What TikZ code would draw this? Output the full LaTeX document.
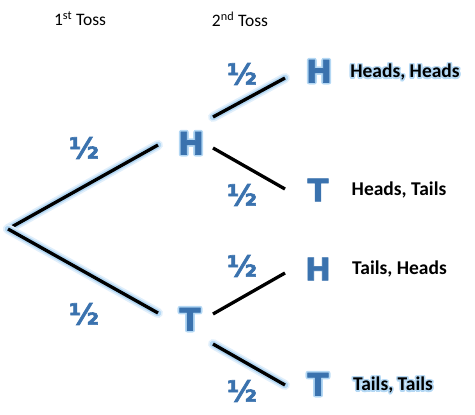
\documentclass[tikz,border=0pt]{standalone}
\usepackage{fontspec}
\setmainfont{Carlito}
\newfontfamily\letterfont{DejaVu Sans}[FakeBold=2]
\usepackage{contour}
\contourlength{1.6pt}
\contournumber{12}
\definecolor{coinblue}{HTML}{3A72AE}
\definecolor{glowblue}{HTML}{B4D8F4}

\tikzstyle{branch}=[line width=3.3pt, black]
\tikzstyle{glowing}=[preaction={draw, line width=10pt, line cap=round, glowblue!40}, preaction={draw, line width=6.5pt, line cap=round, glowblue}]
\tikzstyle{coin}=[text=coinblue, font=\letterfont\bfseries\fontsize{31}{31}\selectfont, inner sep=0pt]
\tikzstyle{half}=[text=coinblue, font=\letterfont\bfseries\fontsize{29}{29}\selectfont, inner sep=0pt]
\tikzstyle{outcome}=[font=\bfseries\fontsize{19.5}{19.5}\selectfont, inner sep=0pt]
\tikzstyle{toss}=[font=\fontsize{17.5}{17.5}\selectfont, inner sep=0pt]

\begin{document}
\begin{tikzpicture}[x=1pt, y=-1pt]
					\useasboundingbox (0,0) rectangle (475,415);

					\node[toss] (first)  at (80,19)  {1\textsuperscript{st} Toss};
					\node[toss] (second) at (240,19) {2\textsuperscript{nd} Toss};

					\coordinate (root) at (8,229);

					\node[coin] (h1) at (191,144) {\contour{glowblue}{H}};
					\node[coin] (t1) at (190,320) {\contour{glowblue}{T}};
					\node[coin] (h2) at (319,72)  {\contour{glowblue}{H}};
					\node[coin] (t2) at (318,190) {T};
					\node[coin] (h3) at (318,269) {H};
					\node[coin] (t4) at (318,385) {\contour{glowblue}{T}};

					\draw[branch, glowing] (root) -- ([shift={(-33,1)}]h1.center);
					\draw[branch, glowing] (root) -- ([shift={(-32,-7)}]t1.center);
					\draw[branch, glowing] ([shift={(22,-27)}]h1.center) -- ([shift={(-34,6)}]h2.center);
					\draw[branch] ([shift={(22,4)}]h1.center) -- ([shift={(-33,-1)}]t2.center);
					\draw[branch] ([shift={(23,-6)}]t1.center) -- ([shift={(-33,4)}]h3.center);
					\draw[branch, glowing] ([shift={(23,24)}]t1.center) -- ([shift={(-33,0)}]t4.center);

					\node[half] (p1) at (84,148)  {½};
					\node[half] (p2) at (84,314)  {½};
					\node[half] (p3) at (242,74)  {½};
					\node[half] (p4) at (242,195) {½};
					\node[half] (p5) at (242,266) {½};
					\node[half] (p6) at (242,391) {½};

					\node[outcome] (hh) at (405,73)  {\contour{glowblue}{Heads, Heads}};
					\node[outcome] (ht) at (399,190) {Heads, Tails};
					\node[outcome] (th) at (399.5,269) {Tails, Heads};
					\node[outcome] (tt) at (393,386) {\contour{glowblue}{Tails, Tails}};
				\end{tikzpicture}
\end{document}
